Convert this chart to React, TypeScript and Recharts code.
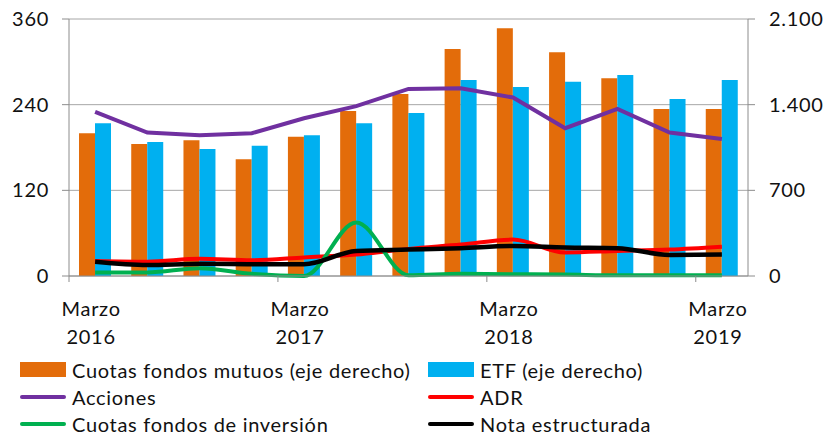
import React from 'react';
import { ComposedChart, Bar, Line, XAxis, YAxis, CartesianGrid } from 'recharts';

const categories = [
  'Marzo 2016', 'Junio 2016', 'Septiembre 2016', 'Diciembre 2016',
  'Marzo 2017', 'Junio 2017', 'Septiembre 2017', 'Diciembre 2017',
  'Marzo 2018', 'Junio 2018', 'Septiembre 2018', 'Diciembre 2018',
  'Marzo 2019',
];

// Right axis (bars)
const cuotasFondosMutuos = [1166, 1079, 1109, 953, 1138, 1348, 1487, 1855, 2024, 1828, 1615, 1365, 1365];
const etf = [1248, 1095, 1038, 1065, 1150, 1248, 1332, 1602, 1544, 1588, 1642, 1446, 1602];

// Left axis (lines)
const acciones = [230, 201, 197, 200, 221, 238, 262, 263, 250, 207, 234, 201, 192];
const adr = [21, 20, 24, 22, 26, 30, 38, 44, 51, 33, 35, 37, 41];
const cuotasFondosInversion = [5, 5, 11, 3, 0, 75, 1, 3, 2.5, 2, 1, 1, 1];
const notaEstructurada = [20, 15.5, 17, 16.5, 16.5, 35, 37, 39, 42, 40, 39, 29.5, 30];

const leftTicks = [0, 120, 240, 360];
const rightTicks = [0, 700, 1400, 2100];

const data = categories.map((c, i) => ({
  cat: c,
  cfm: cuotasFondosMutuos[i],
  etf: etf[i],
  acc: acciones[i],
  adr: adr[i],
  cfi: cuotasFondosInversion[i],
  nota: notaEstructurada[i],
}));

const FONT = 'Lato, "DejaVu Sans", sans-serif';
const FS = 20;
const LS = 0.7;
const AXIS_COLOR = '#8c8c8c';
const TEXT_COLOR = '#111';

const fmtThousands = (v: number) => {
  const s = String(Math.round(v));
  return s.replace(/\B(?=(\d{3})+(?!\d))/g, '.');
};

const XTick = (props: any) => {
  const { x, y, payload } = props;
  const half = payload && payload.offset ? payload.offset : 26.1;
  const parts = String(payload.value).split(' ');
  return (
    <g>
      <line x1={x - half} x2={x - half} y1={y} y2={y + 6} stroke={AXIS_COLOR} strokeWidth={1} />
      <text x={x - 4} y={y + 40} textAnchor="middle" fontSize={FS} letterSpacing={LS} fontFamily={FONT} fill={TEXT_COLOR}>
        {parts[0]}
      </text>
      <text x={x - 4} y={y + 68} textAnchor="middle" fontSize={FS} letterSpacing={LS} fontFamily={FONT} fill={TEXT_COLOR}>
        {parts[1]}
      </text>
    </g>
  );
};

const legendItems = [
  { label: 'Cuotas fondos mutuos (eje derecho)', color: '#E36C0A', kind: 'rect' },
  { label: 'ETF (eje derecho)', color: '#00B0F0', kind: 'rect' },
  { label: 'Acciones', color: '#7030A0', kind: 'line' },
  { label: 'ADR', color: '#FF0000', kind: 'line' },
  { label: 'Cuotas fondos de inversión', color: '#00B050', kind: 'line' },
  { label: 'Nota estructurada', color: '#000000', kind: 'line' },
];

export default function App() {
  return (
    <div style={{ position: 'absolute', left: 0, top: 0, width: 825, height: 434, background: '#fff' }}>
      <ComposedChart
        width={825}
        height={434}
        data={data}
        margin={{ top: 19, right: 0, bottom: 0, left: 0 }}
        barGap={0}
      >
        <CartesianGrid yAxisId="left" horizontal vertical={false} stroke="#a6a6a6" strokeWidth={1} />
        <XAxis
          dataKey="cat"
          interval={3}
          height={158}
          tickLine={false}
          tickSize={0}
          tickMargin={0}
          axisLine={{ stroke: AXIS_COLOR }}
          tick={<XTick />}
        />
        <YAxis
          yAxisId="left"
          orientation="left"
          width={69}
          domain={[0, 360]}
          ticks={leftTicks}
          interval={0}
          tickSize={7}
          tickMargin={13}
          axisLine={{ stroke: AXIS_COLOR }}
          tickLine={{ stroke: AXIS_COLOR }}
          tick={{ fontSize: FS, fontFamily: FONT, fill: TEXT_COLOR, letterSpacing: LS }}
        />
        <YAxis
          yAxisId="right"
          orientation="right"
          width={77}
          domain={[0, 2100]}
          ticks={rightTicks}
          interval={0}
          tickSize={7}
          tickMargin={14}
          axisLine={{ stroke: AXIS_COLOR }}
          tickLine={{ stroke: AXIS_COLOR }}
          tickFormatter={fmtThousands}
          tick={{ fontSize: FS, fontFamily: FONT, fill: TEXT_COLOR, letterSpacing: LS }}
        />
        <Bar yAxisId="right" dataKey="cfm" fill="#E36C0A" barSize={16} isAnimationActive={false} />
        <Bar yAxisId="right" dataKey="etf" fill="#00B0F0" barSize={16} isAnimationActive={false} />
        <Line yAxisId="left" type="linear" dataKey="acc" stroke="#7030A0" strokeWidth={4} dot={false} isAnimationActive={false} />
        <Line yAxisId="left" type="monotone" dataKey="adr" stroke="#FF0000" strokeWidth={4} dot={false} isAnimationActive={false} />
        <Line yAxisId="left" type="monotone" dataKey="cfi" stroke="#00B050" strokeWidth={4} dot={false} isAnimationActive={false} />
        <Line yAxisId="left" type="monotone" dataKey="nota" stroke="#000000" strokeWidth={4.5} dot={false} isAnimationActive={false} />
      </ComposedChart>
      <div
        style={{
          position: 'absolute',
          left: 20,
          top: 356,
          width: 800,
          display: 'grid',
          gridTemplateColumns: '408px 390px',
          rowGap: 0,
          fontFamily: FONT,
          fontSize: FS,
          letterSpacing: LS,
          color: TEXT_COLOR,
        }}
      >
        {legendItems.map((it) => (
          <div key={it.label} style={{ display: 'flex', alignItems: 'center', height: 27, whiteSpace: 'nowrap' }}>
            {it.kind === 'rect' ? (
              <span style={{ display: 'inline-block', width: 46, height: 15, background: it.color, marginRight: 6 }} />
            ) : (
              <span style={{ display: 'inline-block', width: 46, height: 4, borderRadius: 2, background: it.color, marginRight: 6 }} />
            )}
            <span>{it.label}</span>
          </div>
        ))}
      </div>
    </div>
  );
}
